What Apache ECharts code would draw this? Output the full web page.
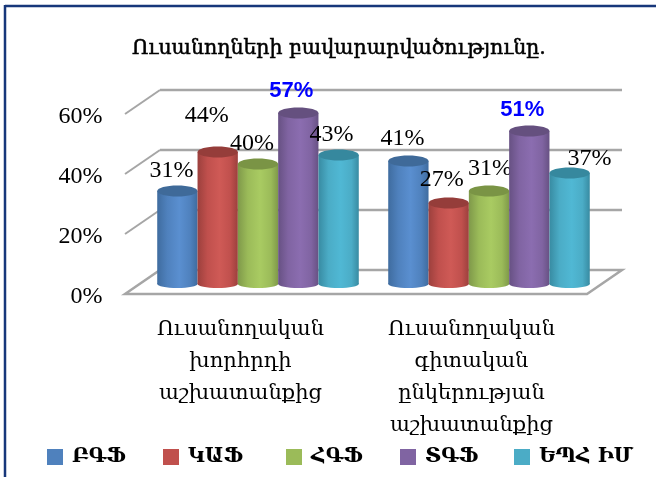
<!DOCTYPE html>
<html><head><meta charset="utf-8">
<style>html,body{margin:0;padding:0;background:#fff}#c{width:656px;height:477px}</style>
<script src="https://cdn.jsdelivr.net/npm/echarts@6/dist/echarts.min.js"></script></head>
<body><div id="c"></div>
<script>
const titleText = 'Ուսանողների բավարարվածությունը.';
const categories = ['Ուսանողական\nխորհրդի\nաշխատանքից', 'Ուսանողական\nգիտական\nընկերության\nաշխատանքից'];
const seriesNames = ['ԲԳՖ', 'ԿԱՖ', 'ՀԳՖ', 'ՏԳՖ', 'ԵՊՀ ԻՄ'];
const valuesBGF = [31, 41];
const valuesKAF = [44, 27];
const valuesHGF = [40, 31];
const valuesTGF = [57, 51];
const valuesEPH = [43, 37];
const yTicks = [0, 20, 40, 60];
const allValues = [valuesBGF, valuesKAF, valuesHGF, valuesTGF, valuesEPH];

const palette = [
  {edge:'#3f6c9f', mid:'#5a8fd0', top:'#3f6a99', base:'#4f81bd'},
  {edge:'#9c403d', mid:'#cf5a56', top:'#953d3a', base:'#c0504d'},
  {edge:'#7f994a', mid:'#a9cb62', top:'#7a9445', base:'#9bbb59'},
  {edge:'#675183', mid:'#8b6db0', top:'#65507f', base:'#8064a2'},
  {edge:'#388ba2', mid:'#50b8d4', top:'#36889e', base:'#4bacc6'}
];
// manual label nudges [dx, dy] relative to the top of each cylinder
const labelNudge = [
  [[-6,-20],[-6,-22]],
  [[-11,-36],[-7,-23]],
  [[-6,-20],[1,-22]],
  [[-7,-22],[-7,-21]],
  [[-7,-20],[20,-14]]
];
const legendLefts = [47, 163, 286, 400, 514];
const serifFont = '"Liberation Serif","DejaVu Serif",serif';
const GRAY = '#a6a6a6';
const frontDx = -17.5, frontDy = 10, backDx = 17.5, backDy = -14;

function renderWall(params, api) {
  const v = api.value(0);
  const cs = params.coordSys;
  const y = api.coord([0, v])[1];
  const xl = cs.x, xr = cs.x + cs.width;
  const label = {type:'text', style:{
    text: v + '%', x: 102.5, y: y + frontDy + 2.5, align:'right', verticalAlign:'middle',
    fill:'#000', font:'24px ' + serifFont
  }};
  if (v === 0) {
    return {type:'group', children:[
      {type:'polygon', shape:{points:[
        [xl+frontDx, y+frontDy],[xl+backDx, y+backDy],[xr+backDx, y+backDy],[xr+frontDx, y+frontDy]
      ]}, style:{fill:'#fff', stroke:GRAY, lineWidth:2.5}},
      label
    ]};
  }
  return {type:'group', children:[
    {type:'line', shape:{x1:xl+frontDx,y1:y+frontDy,x2:xl+backDx,y2:y+backDy}, style:{stroke:GRAY,lineWidth:2}},
    {type:'line', shape:{x1:xl+backDx,y1:y+backDy,x2:xr+backDx,y2:y+backDy}, style:{stroke:GRAY,lineWidth:2.5}},
    label
  ]};
}

function cylGrad(p) {
  return new echarts.graphic.LinearGradient(0,0,1,0,[
    {offset:0,color:p.edge},{offset:0.25,color:p.base},{offset:0.55,color:p.mid},{offset:0.82,color:p.base},{offset:1,color:p.edge}
  ]);
}

function renderCyl(sIdx) {
  return function (params, api) {
    const cat = api.value(0), val = api.value(1);
    const top = api.coord([cat, val]);
    const base = api.coord([cat, 0]);
    const band = api.size([1, 0])[0];
    const w = band * 0.1745;
    const cx = top[0] + (sIdx - 2) * w;
    const rx = w / 2;
    const p = palette[sIdx];
    const big = val === Math.max(...allValues.map(a => a[cat]));
    const n = labelNudge[sIdx][cat];
    return {type:'group', children:[
      {type:'ellipse', shape:{cx:cx,cy:base[1],rx:rx,ry:4}, style:{fill:cylGrad(p)}},
      {type:'rect', shape:{x:cx-rx,y:top[1],width:w,height:base[1]-top[1]}, style:{fill:cylGrad(p)}},
      {type:'ellipse', shape:{cx:cx,cy:top[1],rx:rx,ry:5.5}, style:{fill:p.top}},
      {type:'text', z2:50, style:{
        text: val + '%', x: cx + n[0], y: top[1] + n[1], align:'center', verticalAlign:'middle',
        fill: big ? '#0000ff' : '#000',
        font: big ? 'bold 22px "Liberation Sans",Arial,sans-serif' : '24px ' + serifFont
      }}
    ]};
  };
}

const chart = echarts.init(document.getElementById('c'), null, {renderer:'canvas'});
chart.setOption({
  animation:false,
  backgroundColor:'#fff',
  title:{text:titleText,left:334,top:33,textAlign:'center',textStyle:{fontFamily:'"DejaVu Serif",serif',fontSize:20.5,fontWeight:'normal',color:'#000',textBorderColor:'#000',textBorderWidth:0.5}},
  legend:seriesNames.map((name,i)=>({data:[name],left:legendLefts[i],top:447,padding:0,itemWidth:16,itemHeight:16,icon:'rect',
    textStyle:{fontFamily:'"DejaVu Serif",serif',fontSize:20,fontWeight:'bold',color:'#000',padding:[0,0,0,4]}})),
  grid:{left:142.5,right:51.5,top:104,bottom:193},
  xAxis:{type:'category',data:categories,axisLine:{show:false},axisTick:{show:false},
    axisLabel:{interval:0,margin:30,lineHeight:32,padding:[0,35,0,0],fontFamily:'"DejaVu Serif",serif',fontSize:21,color:'#000'}},
  yAxis:{type:'value',min:0,max:60,interval:20,splitLine:{show:false},axisLine:{show:false},axisTick:{show:false},axisLabel:{show:false}},
  graphic:[
    {type:'line',shape:{x1:5,y1:6,x2:656,y2:6},style:{stroke:'#17377a',lineWidth:2.5},silent:true},
    {type:'line',shape:{x1:5,y1:5,x2:5,y2:477},style:{stroke:'#17377a',lineWidth:2.5},silent:true}
  ],
  series:[
    {type:'custom',name:'wall',renderItem:renderWall,clip:false,silent:true,z:1,data:yTicks.map(v=>[v]),encode:{y:0}},
    ...seriesNames.map((name,i)=>({
      type:'custom',name:name,renderItem:renderCyl(i),clip:false,z:2+i,
      itemStyle:{color:palette[i].base},
      data:allValues[i].map((v,c)=>[c,v]),encode:{x:0,y:1}
    }))
  ]
});
</script></body></html>
